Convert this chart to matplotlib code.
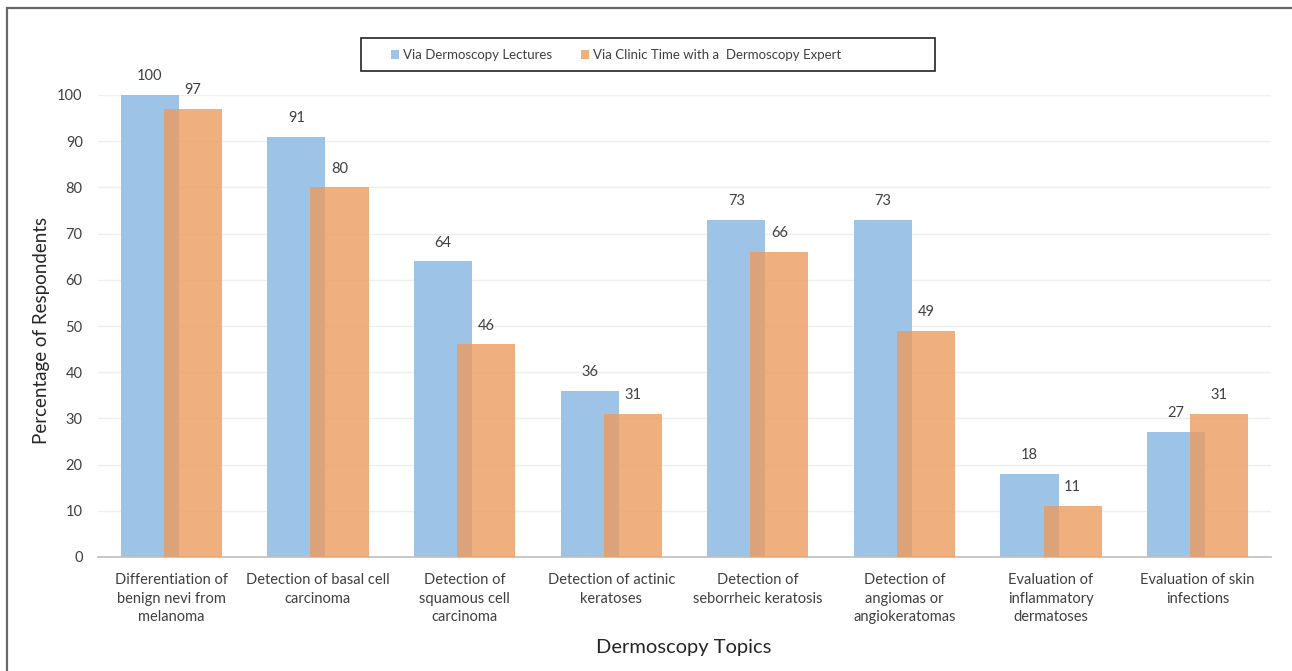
import matplotlib
matplotlib.use("Agg")
import matplotlib.pyplot as plt
from matplotlib.patches import Rectangle, Patch
import numpy as np

categories = [
    "Differentiation of\nbenign nevi from\nmelanoma",
    "Detection of basal cell\ncarcinoma",
    "Detection of\nsquamous cell\ncarcinoma",
    "Detection of actinic\nkeratoses",
    "Detection of\nseborrheic keratosis",
    "Detection of\nangiomas or\nangiokeratomas",
    "Evaluation of\ninflammatory\ndermatoses",
    "Evaluation of skin\ninfections",
]
lectures = [100, 91, 64, 36, 73, 73, 18, 27]
clinic = [97, 80, 46, 31, 66, 49, 11, 31]
series_names = ["Via Dermoscopy Lectures", "Via Clinic Time with a  Dermoscopy Expert"]
yticks = list(range(0, 101, 10))

plt.rcParams['font.family'] = ['Lato', 'DejaVu Sans']
TXT = '#404040'

W, H = 1292, 671
fig = plt.figure(figsize=(W / 100, H / 100), dpi=100)
ax = fig.add_axes([98 / W, 1 - 557 / H, (1271 - 98) / W, (557 - 95) / H])

x = np.arange(len(categories))
bw = 0.396
off = 0.147
blue = '#9DC3E6'
orange = '#ED9B5F'
ax.bar(x - off, lectures, bw, color=blue, zorder=2)
ax.bar(x + off, clinic, bw, color=orange, alpha=0.8, zorder=3)

for xi, v in zip(x - off, lectures):
    ax.annotate(str(v), (xi, v), xytext=(0, 8.5), textcoords='offset points',
                ha='center', va='bottom', fontsize=10.5, color=TXT, annotation_clip=False)
for xi, v in zip(x + off, clinic):
    ax.annotate(str(v), (xi, v), xytext=(0, 8.5), textcoords='offset points',
                ha='center', va='bottom', fontsize=10.5, color=TXT, annotation_clip=False)

ax.set_xlim(-0.5, len(categories) - 0.5)
ax.set_ylim(0, 100)
ax.set_yticks(yticks)
ax.set_yticklabels([str(t) for t in yticks], fontsize=10.5, color=TXT)
ax.set_xticks(x)
ax.set_xticklabels(categories, fontsize=10.5, color=TXT, linespacing=1.42)
ax.tick_params(axis='both', length=0)
ax.tick_params(axis='y', pad=11)
ax.tick_params(axis='x', pad=11.5)
ax.grid(axis='y', color='#EFEFEF', linewidth=1, zorder=0)
ax.set_axisbelow(True)
for s in ['left', 'right', 'top']:
    ax.spines[s].set_visible(False)
ax.spines['bottom'].set_color('#BFBFBF')
ax.spines['bottom'].set_linewidth(1.2)

fig.text(42 / W, 1 - 330 / H, "Percentage of Respondents", rotation=90,
         ha='center', va='center', fontsize=13.5, color='#262626')
fig.text(684 / W, 1 - 647 / H, "Dermoscopy Topics", ha='center', va='center',
         fontsize=14.5, color='#262626')

# legend box
fig.patches.append(Rectangle((361 / W, 1 - 71 / H), (935 - 361) / W, 33 / H,
                             transform=fig.transFigure, fill=False,
                             edgecolor='#222222', linewidth=1.2))
handles = [Patch(facecolor=blue), Patch(facecolor=orange, alpha=0.8)]
fig.legend(handles, series_names, loc='center left',
           bbox_to_anchor=(391 / W, 1 - 55 / H), ncol=2, frameon=False,
           fontsize=9.5, handlelength=0.6, handleheight=0.6, handletextpad=0.3,
           columnspacing=2.2, labelcolor=TXT, borderpad=0, borderaxespad=0)

# outer frame
fig.patches.append(Rectangle((7 / W, -0.05), 1.2, 1 - 8 / H + 0.05,
                             transform=fig.transFigure, fill=False,
                             edgecolor='#666666', linewidth=1.6))

fig.savefig("out.png", dpi=100, facecolor='white')
